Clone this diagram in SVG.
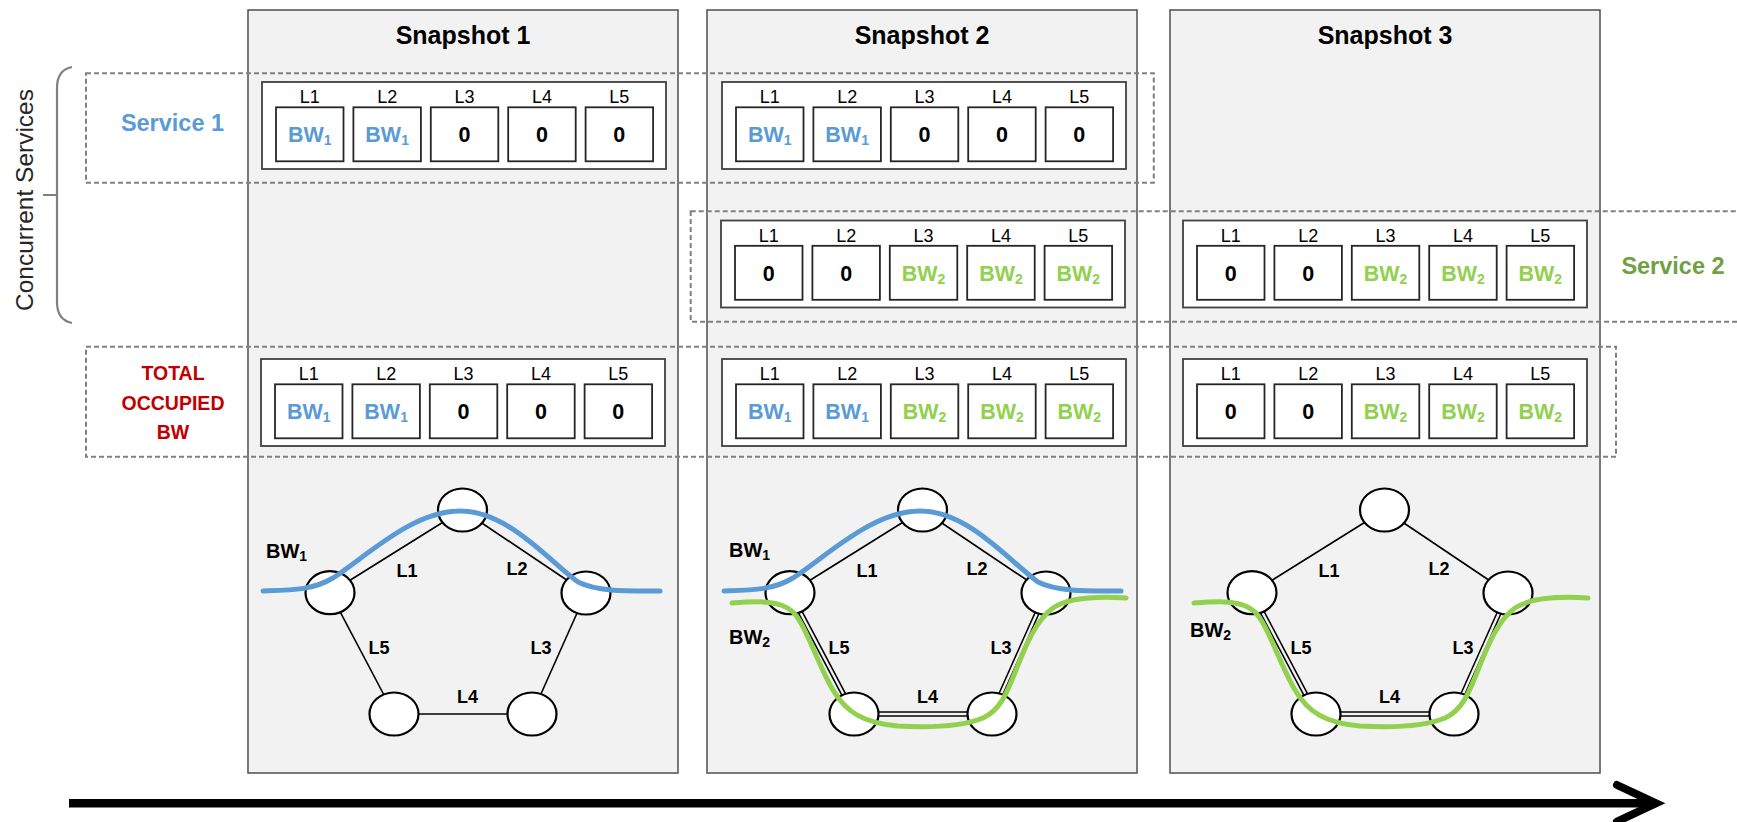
<svg xmlns="http://www.w3.org/2000/svg" width="1737" height="822" viewBox="0 0 1737 822">
<defs>
<style>
text{font-family:"Liberation Sans",Arial,sans-serif;}
.snap{fill:#f2f2f2;stroke:#595959;stroke-width:1.6;}
.title{font-size:25px;font-weight:bold;fill:#000;text-anchor:middle;}
.dash{fill:none;stroke:#808080;stroke-width:2;stroke-dasharray:5 3;}
.tbl{fill:#fff;stroke:#404040;stroke-width:1.8;}
.cell{fill:#fff;stroke:#262626;stroke-width:1.8;}
.lab{font-size:18px;fill:#000;text-anchor:middle;}
.val{font-size:21.5px;font-weight:bold;text-anchor:middle;}
.z{fill:#000;}
.b1{fill:#5b9bd5;}
.b2{fill:#92d050;}
.sub{font-size:14px;}
.edge{stroke:#000;stroke-width:1.6;fill:none;}
.dbl{stroke:#000;stroke-width:5.5;fill:none;}
.dblin{stroke:#f2f2f2;stroke-width:2.4;fill:none;}
.node{fill:#fff;stroke:#000;stroke-width:2.2;}
.elab{font-size:18px;font-weight:bold;fill:#000;text-anchor:middle;}
.glab{font-size:20px;font-weight:bold;fill:#000;}
.blue{fill:none;stroke:#5b9bd5;stroke-width:5;stroke-linecap:round;}
.green{fill:none;stroke:#92d050;stroke-width:5;stroke-linecap:round;}
</style>
</defs>

<!-- snapshot panels -->
<g id="snapshot1"><rect class="snap" x="248" y="10" width="430" height="763"/><text class="title" x="463" y="43.5">Snapshot 1</text></g>
<g id="snapshot2"><rect class="snap" x="707" y="10" width="430" height="763"/><text class="title" x="922" y="43.5">Snapshot 2</text></g>
<g id="snapshot3"><rect class="snap" x="1170" y="10" width="430" height="763"/><text class="title" x="1385" y="43.5">Snapshot 3</text></g>

<!-- grouping -->
<g id="service1-group"><rect class="dash" x="86" y="73.3" width="1067.8" height="109.4"/>
<text x="172.5" y="131" text-anchor="middle" font-size="23.5" font-weight="bold" fill="#5b9bd5">Service 1</text></g>
<g id="service2-group"><rect class="dash" x="690.7" y="211.3" width="1100" height="110.4"/>
<text x="1673" y="274" text-anchor="middle" font-size="23.5" font-weight="bold" fill="#70a040">Service 2</text></g>
<g id="total-group"><rect class="dash" x="86" y="346.7" width="1530" height="110"/>
<text x="173" y="379.5" text-anchor="middle" font-size="19.5" font-weight="bold" fill="#c00000">TOTAL</text>
<text x="173" y="409.5" text-anchor="middle" font-size="19.5" font-weight="bold" fill="#c00000">OCCUPIED</text>
<text x="173" y="438.5" text-anchor="middle" font-size="19.5" font-weight="bold" fill="#c00000">BW</text></g>

<g id="concurrent-brace">
<path d="M72,67 Q57,70 57,88 L57,302 Q57,320 72,323 M57,195 L43,195" fill="none" stroke="#808080" stroke-width="2.2"/>
<text transform="translate(33,200) rotate(-90)" text-anchor="middle" font-size="24.5" fill="#262626">Concurrent Services</text>
</g>

<!-- tables -->
<g id="t-s1-svc1" transform="translate(262,82)">
<rect class="tbl" x="0" y="0" width="404" height="87"/>
<rect class="cell" x="14" y="25.3" width="67.5" height="54"/><rect class="cell" x="91.4" y="25.3" width="67.5" height="54"/><rect class="cell" x="168.8" y="25.3" width="67.5" height="54"/><rect class="cell" x="246.2" y="25.3" width="67.5" height="54"/><rect class="cell" x="323.6" y="25.3" width="67.5" height="54"/>
<text class="lab" x="47.75" y="21">L1</text><text class="lab" x="125.15" y="21">L2</text><text class="lab" x="202.55" y="21">L3</text><text class="lab" x="279.95" y="21">L4</text><text class="lab" x="357.35" y="21">L5</text>
<text class="val b1" x="47.75" y="60">BW<tspan class="sub" dy="3">1</tspan></text><text class="val b1" x="125.15" y="60">BW<tspan class="sub" dy="3">1</tspan></text><text class="val z" x="202.55" y="60">0</text><text class="val z" x="279.95" y="60">0</text><text class="val z" x="357.35" y="60">0</text>
</g>
<g id="t-s2-svc1" transform="translate(722,82)">
<rect class="tbl" x="0" y="0" width="404" height="87"/>
<rect class="cell" x="14" y="25.3" width="67.5" height="54"/><rect class="cell" x="91.4" y="25.3" width="67.5" height="54"/><rect class="cell" x="168.8" y="25.3" width="67.5" height="54"/><rect class="cell" x="246.2" y="25.3" width="67.5" height="54"/><rect class="cell" x="323.6" y="25.3" width="67.5" height="54"/>
<text class="lab" x="47.75" y="21">L1</text><text class="lab" x="125.15" y="21">L2</text><text class="lab" x="202.55" y="21">L3</text><text class="lab" x="279.95" y="21">L4</text><text class="lab" x="357.35" y="21">L5</text>
<text class="val b1" x="47.75" y="60">BW<tspan class="sub" dy="3">1</tspan></text><text class="val b1" x="125.15" y="60">BW<tspan class="sub" dy="3">1</tspan></text><text class="val z" x="202.55" y="60">0</text><text class="val z" x="279.95" y="60">0</text><text class="val z" x="357.35" y="60">0</text>
</g>
<g id="t-s2-svc2" transform="translate(721,220.5)">
<rect class="tbl" x="0" y="0" width="404" height="87"/>
<rect class="cell" x="14" y="25.3" width="67.5" height="54"/><rect class="cell" x="91.4" y="25.3" width="67.5" height="54"/><rect class="cell" x="168.8" y="25.3" width="67.5" height="54"/><rect class="cell" x="246.2" y="25.3" width="67.5" height="54"/><rect class="cell" x="323.6" y="25.3" width="67.5" height="54"/>
<text class="lab" x="47.75" y="21">L1</text><text class="lab" x="125.15" y="21">L2</text><text class="lab" x="202.55" y="21">L3</text><text class="lab" x="279.95" y="21">L4</text><text class="lab" x="357.35" y="21">L5</text>
<text class="val z" x="47.75" y="60">0</text><text class="val z" x="125.15" y="60">0</text><text class="val b2" x="202.55" y="60">BW<tspan class="sub" dy="3">2</tspan></text><text class="val b2" x="279.95" y="60">BW<tspan class="sub" dy="3">2</tspan></text><text class="val b2" x="357.35" y="60">BW<tspan class="sub" dy="3">2</tspan></text>
</g>
<g id="t-s3-svc2" transform="translate(1183,220.5)">
<rect class="tbl" x="0" y="0" width="404" height="87"/>
<rect class="cell" x="14" y="25.3" width="67.5" height="54"/><rect class="cell" x="91.4" y="25.3" width="67.5" height="54"/><rect class="cell" x="168.8" y="25.3" width="67.5" height="54"/><rect class="cell" x="246.2" y="25.3" width="67.5" height="54"/><rect class="cell" x="323.6" y="25.3" width="67.5" height="54"/>
<text class="lab" x="47.75" y="21">L1</text><text class="lab" x="125.15" y="21">L2</text><text class="lab" x="202.55" y="21">L3</text><text class="lab" x="279.95" y="21">L4</text><text class="lab" x="357.35" y="21">L5</text>
<text class="val z" x="47.75" y="60">0</text><text class="val z" x="125.15" y="60">0</text><text class="val b2" x="202.55" y="60">BW<tspan class="sub" dy="3">2</tspan></text><text class="val b2" x="279.95" y="60">BW<tspan class="sub" dy="3">2</tspan></text><text class="val b2" x="357.35" y="60">BW<tspan class="sub" dy="3">2</tspan></text>
</g>
<g id="t-s1-total" transform="translate(261,359)">
<rect class="tbl" x="0" y="0" width="404" height="87"/>
<rect class="cell" x="14" y="25.3" width="67.5" height="54"/><rect class="cell" x="91.4" y="25.3" width="67.5" height="54"/><rect class="cell" x="168.8" y="25.3" width="67.5" height="54"/><rect class="cell" x="246.2" y="25.3" width="67.5" height="54"/><rect class="cell" x="323.6" y="25.3" width="67.5" height="54"/>
<text class="lab" x="47.75" y="21">L1</text><text class="lab" x="125.15" y="21">L2</text><text class="lab" x="202.55" y="21">L3</text><text class="lab" x="279.95" y="21">L4</text><text class="lab" x="357.35" y="21">L5</text>
<text class="val b1" x="47.75" y="60">BW<tspan class="sub" dy="3">1</tspan></text><text class="val b1" x="125.15" y="60">BW<tspan class="sub" dy="3">1</tspan></text><text class="val z" x="202.55" y="60">0</text><text class="val z" x="279.95" y="60">0</text><text class="val z" x="357.35" y="60">0</text>
</g>
<g id="t-s2-total" transform="translate(722,359)">
<rect class="tbl" x="0" y="0" width="404" height="87"/>
<rect class="cell" x="14" y="25.3" width="67.5" height="54"/><rect class="cell" x="91.4" y="25.3" width="67.5" height="54"/><rect class="cell" x="168.8" y="25.3" width="67.5" height="54"/><rect class="cell" x="246.2" y="25.3" width="67.5" height="54"/><rect class="cell" x="323.6" y="25.3" width="67.5" height="54"/>
<text class="lab" x="47.75" y="21">L1</text><text class="lab" x="125.15" y="21">L2</text><text class="lab" x="202.55" y="21">L3</text><text class="lab" x="279.95" y="21">L4</text><text class="lab" x="357.35" y="21">L5</text>
<text class="val b1" x="47.75" y="60">BW<tspan class="sub" dy="3">1</tspan></text><text class="val b1" x="125.15" y="60">BW<tspan class="sub" dy="3">1</tspan></text><text class="val b2" x="202.55" y="60">BW<tspan class="sub" dy="3">2</tspan></text><text class="val b2" x="279.95" y="60">BW<tspan class="sub" dy="3">2</tspan></text><text class="val b2" x="357.35" y="60">BW<tspan class="sub" dy="3">2</tspan></text>
</g>
<g id="t-s3-total" transform="translate(1183,359)">
<rect class="tbl" x="0" y="0" width="404" height="87"/>
<rect class="cell" x="14" y="25.3" width="67.5" height="54"/><rect class="cell" x="91.4" y="25.3" width="67.5" height="54"/><rect class="cell" x="168.8" y="25.3" width="67.5" height="54"/><rect class="cell" x="246.2" y="25.3" width="67.5" height="54"/><rect class="cell" x="323.6" y="25.3" width="67.5" height="54"/>
<text class="lab" x="47.75" y="21">L1</text><text class="lab" x="125.15" y="21">L2</text><text class="lab" x="202.55" y="21">L3</text><text class="lab" x="279.95" y="21">L4</text><text class="lab" x="357.35" y="21">L5</text>
<text class="val z" x="47.75" y="60">0</text><text class="val z" x="125.15" y="60">0</text><text class="val b2" x="202.55" y="60">BW<tspan class="sub" dy="3">2</tspan></text><text class="val b2" x="279.95" y="60">BW<tspan class="sub" dy="3">2</tspan></text><text class="val b2" x="357.35" y="60">BW<tspan class="sub" dy="3">2</tspan></text>
</g>

<!-- network graphs -->
<g id="graph1" transform="translate(248,0)">
<g id="g1-connectors">
<line class="edge" x1="82" y1="592.7" x2="214.5" y2="510"/>
<line class="edge" x1="214.5" y1="510" x2="338" y2="593"/>
<line class="edge" x1="338" y1="593" x2="284" y2="714"/>
<line class="edge" x1="284" y1="714" x2="146" y2="714"/>
<line class="edge" x1="146" y1="714" x2="82" y2="592.7"/>
</g>
<g id="g1-n-top"><ellipse class="node" cx="214.5" cy="510" rx="24.5" ry="21.5"/></g>
<g id="g1-n-left"><ellipse class="node" cx="82" cy="592.7" rx="24.5" ry="21.5"/></g>
<g id="g1-n-right"><ellipse class="node" cx="338" cy="593" rx="24.5" ry="21.5"/></g>
<g id="g1-n-bl"><ellipse class="node" cx="146" cy="714" rx="24.5" ry="21.5"/></g>
<g id="g1-n-br"><ellipse class="node" cx="284" cy="714" rx="24.5" ry="21.5"/></g>
<path class="blue" d="M15,591 C45,590 65,590 85,578 C120,555 165,511 212,511 C260,511 300,560 330,582 C350,592 380,591 412,591"/>
<text class="elab" x="159" y="576.5">L1</text><text class="elab" x="269" y="574.5">L2</text><text class="elab" x="293" y="653.5">L3</text><text class="elab" x="219.5" y="702.5">L4</text><text class="elab" x="131" y="653.5">L5</text>
<text class="glab" x="18" y="558">BW<tspan class="sub" dy="3">1</tspan></text>
</g>

<g id="graph2" transform="translate(708,0)">
<g id="g2-connectors">
<line class="edge" x1="82" y1="592.7" x2="214.5" y2="510"/>
<line class="edge" x1="214.5" y1="510" x2="338" y2="593"/>
<line class="dbl" x1="338" y1="593" x2="284" y2="714"/><line class="dblin" x1="338" y1="593" x2="284" y2="714"/>
<line class="dbl" x1="284" y1="714" x2="146" y2="714"/><line class="dblin" x1="284" y1="714" x2="146" y2="714"/>
<line class="dbl" x1="146" y1="714" x2="82" y2="592.7"/><line class="dblin" x1="146" y1="714" x2="82" y2="592.7"/>
</g>
<g id="g2-n-top"><ellipse class="node" cx="214.5" cy="510" rx="24.5" ry="21.5"/></g>
<g id="g2-n-left"><ellipse class="node" cx="82" cy="592.7" rx="24.5" ry="21.5"/></g>
<g id="g2-n-right"><ellipse class="node" cx="338" cy="593" rx="24.5" ry="21.5"/></g>
<g id="g2-n-bl"><ellipse class="node" cx="146" cy="714" rx="24.5" ry="21.5"/></g>
<g id="g2-n-br"><ellipse class="node" cx="284" cy="714" rx="24.5" ry="21.5"/></g>
<path class="blue" d="M16,591 C45,590 65,590 85,578 C120,555 165,511 212,511 C260,511 300,560 330,582 C350,592 380,591 413,591"/>
<path class="green" d="M24,603 C50,601 72,600 85,612 C98,625 110,665 125,690 C138,712 155,723 190,726 C225,728 255,726 275,718 C292,710 298,695 308,670 C318,645 328,620 345,608 C360,598 385,596 418,598"/>
<text class="elab" x="159" y="576.5">L1</text><text class="elab" x="269" y="574.5">L2</text><text class="elab" x="293" y="653.5">L3</text><text class="elab" x="219.5" y="702.5">L4</text><text class="elab" x="131" y="653.5">L5</text>
<text class="glab" x="21" y="557">BW<tspan class="sub" dy="3">1</tspan></text>
<text class="glab" x="21" y="644">BW<tspan class="sub" dy="3">2</tspan></text>
</g>

<g id="graph3" transform="translate(1170,0)">
<g id="g3-connectors">
<line class="edge" x1="82" y1="592.7" x2="214.5" y2="510"/>
<line class="edge" x1="214.5" y1="510" x2="338" y2="593"/>
<line class="dbl" x1="338" y1="593" x2="284" y2="714"/><line class="dblin" x1="338" y1="593" x2="284" y2="714"/>
<line class="dbl" x1="284" y1="714" x2="146" y2="714"/><line class="dblin" x1="284" y1="714" x2="146" y2="714"/>
<line class="dbl" x1="146" y1="714" x2="82" y2="592.7"/><line class="dblin" x1="146" y1="714" x2="82" y2="592.7"/>
</g>
<g id="g3-n-top"><ellipse class="node" cx="214.5" cy="510" rx="24.5" ry="21.5"/></g>
<g id="g3-n-left"><ellipse class="node" cx="82" cy="592.7" rx="24.5" ry="21.5"/></g>
<g id="g3-n-right"><ellipse class="node" cx="338" cy="593" rx="24.5" ry="21.5"/></g>
<g id="g3-n-bl"><ellipse class="node" cx="146" cy="714" rx="24.5" ry="21.5"/></g>
<g id="g3-n-br"><ellipse class="node" cx="284" cy="714" rx="24.5" ry="21.5"/></g>
<path class="green" d="M24,603 C50,601 72,600 85,612 C98,625 110,665 125,690 C138,712 155,723 190,726 C225,728 255,726 275,718 C292,710 298,695 308,670 C318,645 328,620 345,608 C360,598 385,596 418,598"/>
<text class="elab" x="159" y="576.5">L1</text><text class="elab" x="269" y="574.5">L2</text><text class="elab" x="293" y="653.5">L3</text><text class="elab" x="219.5" y="702.5">L4</text><text class="elab" x="131" y="653.5">L5</text>
<text class="glab" x="20" y="637">BW<tspan class="sub" dy="3">2</tspan></text>
</g>

<!-- time arrow -->
<g id="time-arrow">
<line x1="69" y1="803.3" x2="1650" y2="803.3" stroke="#000" stroke-width="8.5"/>
<polyline points="1617,785 1656,803.3 1617,821.5" fill="none" stroke="#000" stroke-width="8" stroke-linecap="round" stroke-linejoin="miter"/>
</g>
</svg>
